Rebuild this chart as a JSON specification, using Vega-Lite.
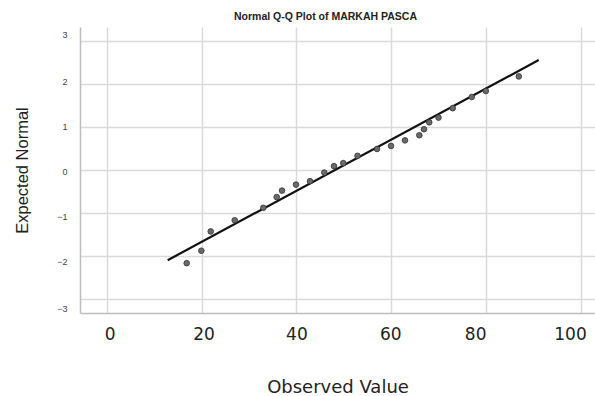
{
  "$schema": "https://vega.github.io/schema/vega-lite/v6.json",
  "width": 515,
  "height": 286,
  "autosize": {"type": "none"},
  "padding": {"left": 80, "top": 27, "right": 0, "bottom": 83},
  "background": "white",
  "title": {
    "text": "Normal Q-Q Plot of MARKAH PASCA",
    "font": "Liberation Sans",
    "fontSize": 10.5,
    "fontWeight": "bold",
    "color": "#222",
    "anchor": "middle",
    "dx": -12,
    "offset": 5
  },
  "datasets": {
    "points": [
      {"observed": 16.87, "expected": -2.17},
      {"observed": 19.95, "expected": -1.88},
      {"observed": 21.93, "expected": -1.43},
      {"observed": 26.99, "expected": -1.17},
      {"observed": 33.02, "expected": -0.88},
      {"observed": 35.84, "expected": -0.63},
      {"observed": 36.96, "expected": -0.48},
      {"observed": 39.91, "expected": -0.34},
      {"observed": 42.86, "expected": -0.26},
      {"observed": 45.88, "expected": -0.06},
      {"observed": 47.92, "expected": 0.09},
      {"observed": 49.88, "expected": 0.16},
      {"observed": 52.88, "expected": 0.33},
      {"observed": 56.99, "expected": 0.49},
      {"observed": 59.94, "expected": 0.56},
      {"observed": 62.89, "expected": 0.69},
      {"observed": 65.91, "expected": 0.81},
      {"observed": 66.9, "expected": 0.95},
      {"observed": 68.0, "expected": 1.11},
      {"observed": 69.96, "expected": 1.22},
      {"observed": 72.95, "expected": 1.44},
      {"observed": 76.96, "expected": 1.7},
      {"observed": 79.93, "expected": 1.84},
      {"observed": 86.89, "expected": 2.18}
    ],
    "fit": [
      {"observed": 12.86, "expected": -2.1},
      {"observed": 91.08, "expected": 2.56}
    ]
  },
  "layer": [
    {
      "data": {"name": "fit"},
      "mark": {"type": "line", "color": "#111", "strokeWidth": 2.2, "clip": true},
      "encoding": {
        "x": {
          "field": "observed",
          "type": "quantitative",
          "scale": {"domain": [-5.63, 102.95], "nice": false, "zero": false},
          "axis": {
            "values": [0, 20, 40, 60, 80, 100],
            "title": "Observed Value",
            "titleFont": "DejaVu Sans",
            "titleFontSize": 18,
            "titleFontWeight": "normal",
            "titleColor": "#222",
            "titleY": 74,
            "titleBaseline": "middle",
            "labelFont": "DejaVu Sans",
            "labelFontSize": 17,
            "labelColor": "#222",
            "labelPadding": 13,
            "labelBaseline": "top",
            "labelFlush": false,
            "labelOverlap": false,
            "labelOffset": {
              "condition": [
                {"test": "datum.value == 0", "value": 3},
                {"test": "datum.value == 20", "value": 2},
                {"test": "datum.value == 60", "value": -1},
                {"test": "datum.value >= 80", "value": -11}
              ],
              "value": 0
            },
            "ticks": false,
            "domainColor": "#bdbdbd",
            "domainWidth": 1.5,
            "gridColor": "#dadada",
            "gridWidth": 1.5
          }
        },
        "y": {
          "field": "expected",
          "type": "quantitative",
          "scale": {"domain": [-3.33, 3.33], "nice": false, "zero": false},
          "axis": {
            "values": [-3, -2, -1, 0, 1, 2, 3],
            "title": "Expected Normal",
            "titleFont": "Liberation Sans",
            "titleFontSize": 16.5,
            "titleFontWeight": "normal",
            "titleColor": "#222",
            "titleX": -58,
            "titleAngle": -90,
            "titleBaseline": "middle",
            "labelFont": "Liberation Sans",
            "labelFontSize": 9,
            "labelColor": "#444",
            "labelPadding": 13,
            "labelFlush": false,
            "labelOverlap": false,
            "labelOffset": {
              "condition": [
                {"test": "datum.value == 3", "value": -7},
                {"test": "datum.value == 2", "value": -3},
                {"test": "datum.value == 1", "value": -1},
                {"test": "datum.value == 0", "value": 1},
                {"test": "datum.value == -1", "value": 4},
                {"test": "datum.value == -2", "value": 6},
                {"test": "datum.value == -3", "value": 10}
              ],
              "value": 0
            },
            "ticks": false,
            "domainColor": "#bdbdbd",
            "domainWidth": 1.5,
            "gridColor": "#dadada",
            "gridWidth": 1.5
          }
        }
      }
    },
    {
      "data": {"name": "points"},
      "mark": {"type": "point", "filled": true, "fill": "#6a6a6a", "stroke": "#333", "strokeWidth": 0.8, "size": 32, "opacity": 1, "shape": "circle"},
      "encoding": {
        "x": {"field": "observed", "type": "quantitative"},
        "y": {"field": "expected", "type": "quantitative"}
      }
    }
  ],
  "config": {
    "view": {"stroke": null}
  }
}
